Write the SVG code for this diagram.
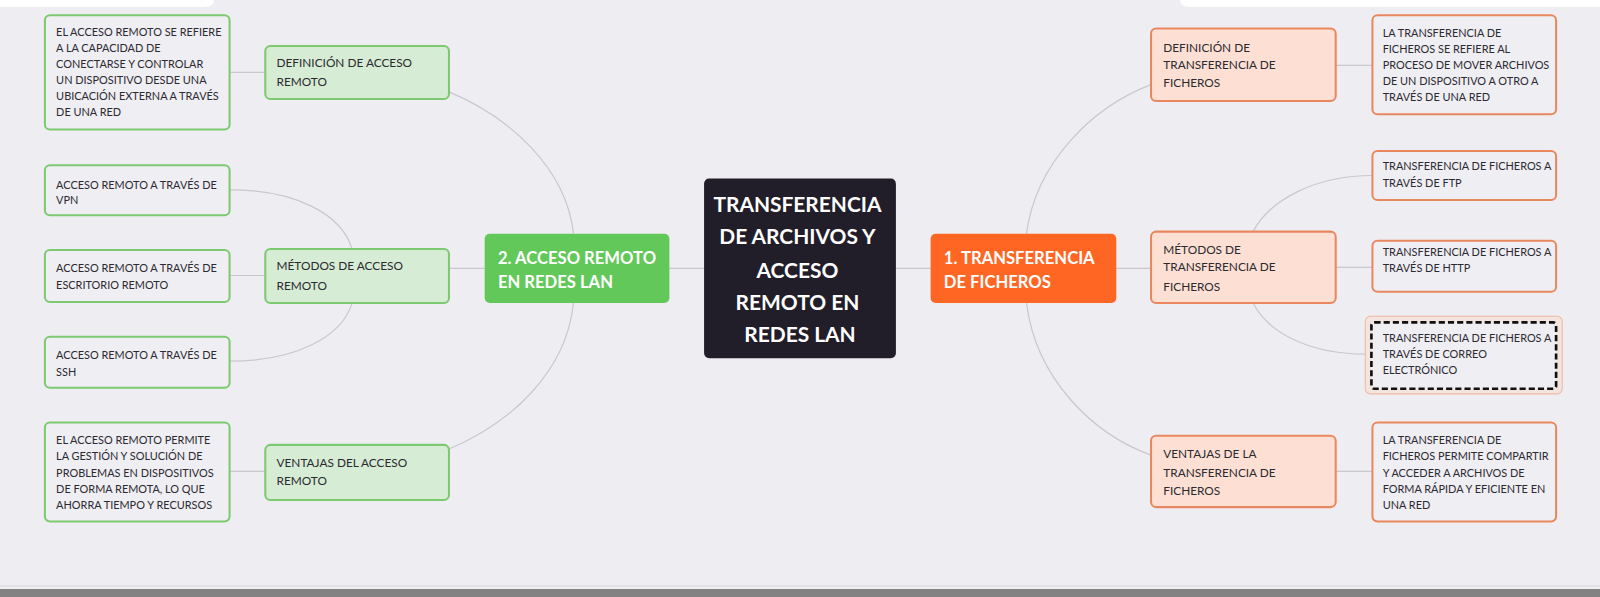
<svg xmlns="http://www.w3.org/2000/svg" width="1600" height="597" viewBox="0 0 1600 597">
<style>
.t{font-family:Lato,"Open Sans","Liberation Sans",sans-serif;fill:#2b2a30}
.s{font-size:10.7px}
.m{font-size:11.6px}
.b{font-family:Lato,"Open Sans","Liberation Sans",sans-serif;font-weight:bold;fill:#ffffff}
.gd{fill:#efeef3;stroke:#7dc96f;stroke-width:2}
.gm{fill:#d7ecd4;stroke:#7dc96f;stroke-width:2}
.od{fill:#efeef3;stroke:#e9885f;stroke-width:2}
.om{fill:#fde0d3;stroke:#e9885f;stroke-width:2}
.c{fill:none;stroke:#c9c8cd;stroke-width:1.2}
</style>
<rect width="1600" height="597" fill="#eeedf2"/>
<path d="M0,0 H214 Q214,7 204,7 H0 Z" fill="#ffffff"/>
<path d="M1180,0 H1600 V7 H1190 Q1180,7 1180,0 Z" fill="#ffffff"/>
<rect x="0" y="585" width="1600" height="2" fill="#e2e1e6"/>
<rect x="0" y="589" width="1600" height="8" fill="#828282"/>

<g transform="scale(1.0204)">
<g id="connectors">
<path class="c" d="M690,263 H656"/>
<path class="c" d="M475,263 H440"/>
<path class="c" d="M440,90 C500,115 555,165 562,229"/>
<path class="c" d="M440,440 C500,415 555,365 562,297"/>
<path class="c" d="M225,71 H260"/>
<path class="c" d="M225,270 H260"/>
<path class="c" d="M225,186 C290,186 335,210 345,244"/>
<path class="c" d="M225,354 C290,354 335,330 345,297"/>
<path class="c" d="M225,462 H260"/>
<path class="c" d="M878,263 H912"/>
<path class="c" d="M1094,263 H1128"/>
<path class="c" d="M1128,83 C1070,105 1015,160 1006,229"/>
<path class="c" d="M1128,446 C1070,425 1015,370 1006,297"/>
<path class="c" d="M1309,64 H1345"/>
<path class="c" d="M1309,262 H1345"/>
<path class="c" d="M1228,227 C1245,195 1290,172 1345,172"/>
<path class="c" d="M1228,297 C1245,330 1290,347 1338,347"/>
<path class="c" d="M1309,462 H1345"/>
</g>

<g id="root">
<rect x="690" y="175" width="188" height="176" rx="5" fill="#221e29"/>
<text class="b" font-size="20.5" text-anchor="middle">
<tspan x="784" y="207.5">TRANSFERENCIA</tspan>
<tspan x="784" y="239.5">DE ARCHIVOS Y</tspan>
<tspan x="784" y="272">ACCESO</tspan>
<tspan x="784" y="304">REMOTO EN</tspan>
<tspan x="784" y="335.5">REDES LAN</tspan>
</text>
</g>

<g id="n2">
<rect x="475" y="229" width="181" height="68" rx="5" fill="#62c85a"/>
<text class="b" font-size="16.3"><tspan x="488" y="259">2. ACCESO REMOTO</tspan><tspan x="488" y="282">EN REDES LAN</tspan></text>
</g>

<g id="n1">
<rect x="912" y="229" width="182" height="68" rx="5" fill="#ff6624"/>
<text class="b" font-size="16.3"><tspan x="925" y="259">1. TRANSFERENCIA</tspan><tspan x="925" y="282">DE FICHEROS</tspan></text>
</g>

<g id="defAcceso">
<rect class="gm" x="260" y="45" width="180" height="52" rx="5"/>
<text class="t m"><tspan x="271" y="66">DEFINICIÓN DE ACCESO</tspan><tspan x="271" y="84">REMOTO</tspan></text>
</g>
<g id="defAccesoDet">
<rect class="gd" x="44" y="15" width="181" height="112" rx="5"/>
<text class="t s"><tspan x="55" y="35">EL ACCESO REMOTO SE REFIERE</tspan><tspan x="55" y="51">A LA CAPACIDAD DE</tspan><tspan x="55" y="67">CONECTARSE Y CONTROLAR</tspan><tspan x="55" y="82.5">UN DISPOSITIVO DESDE UNA</tspan><tspan x="55" y="98">UBICACIÓN EXTERNA A TRAVÉS</tspan><tspan x="55" y="114">DE UNA RED</tspan></text>
</g>

<g id="metAcceso">
<rect class="gm" x="260" y="244" width="180" height="53" rx="5"/>
<text class="t m"><tspan x="271" y="265">MÉTODOS DE ACCESO</tspan><tspan x="271" y="284">REMOTO</tspan></text>
</g>
<g id="vpn">
<rect class="gd" x="44" y="162" width="181" height="49" rx="5"/>
<text class="t s"><tspan x="55" y="185">ACCESO REMOTO A TRAVÉS DE</tspan><tspan x="55" y="200">VPN</tspan></text>
</g>
<g id="escritorio">
<rect class="gd" x="44" y="245" width="181" height="51" rx="5"/>
<text class="t s"><tspan x="55" y="267">ACCESO REMOTO A TRAVÉS DE</tspan><tspan x="55" y="283">ESCRITORIO REMOTO</tspan></text>
</g>
<g id="ssh">
<rect class="gd" x="44" y="330" width="181" height="50" rx="5"/>
<text class="t s"><tspan x="55" y="352">ACCESO REMOTO A TRAVÉS DE</tspan><tspan x="55" y="368">SSH</tspan></text>
</g>

<g id="ventAcceso">
<rect class="gm" x="260" y="436" width="180" height="54" rx="5"/>
<text class="t m"><tspan x="271" y="458">VENTAJAS DEL ACCESO</tspan><tspan x="271" y="475">REMOTO</tspan></text>
</g>
<g id="ventAccesoDet">
<rect class="gd" x="44" y="414" width="181" height="97" rx="5"/>
<text class="t s"><tspan x="55" y="435">EL ACCESO REMOTO PERMITE</tspan><tspan x="55" y="451">LA GESTIÓN Y SOLUCIÓN DE</tspan><tspan x="55" y="467">PROBLEMAS EN DISPOSITIVOS</tspan><tspan x="55" y="483">DE FORMA REMOTA, LO QUE</tspan><tspan x="55" y="499">AHORRA TIEMPO Y RECURSOS</tspan></text>
</g>

<g id="defTrans">
<rect class="om" x="1128" y="28" width="181" height="71" rx="5"/>
<text class="t m"><tspan x="1140" y="51">DEFINICIÓN DE</tspan><tspan x="1140" y="68">TRANSFERENCIA DE</tspan><tspan x="1140" y="85">FICHEROS</tspan></text>
</g>
<g id="defTransDet">
<rect class="od" x="1345" y="15" width="180" height="97" rx="5"/>
<text class="t s"><tspan x="1355" y="36">LA TRANSFERENCIA DE</tspan><tspan x="1355" y="52">FICHEROS SE REFIERE AL</tspan><tspan x="1355" y="68">PROCESO DE MOVER ARCHIVOS</tspan><tspan x="1355" y="83">DE UN DISPOSITIVO A OTRO A</tspan><tspan x="1355" y="99">TRAVÉS DE UNA RED</tspan></text>
</g>

<g id="metTrans">
<rect class="om" x="1128" y="227" width="181" height="70" rx="5"/>
<text class="t m"><tspan x="1140" y="249">MÉTODOS DE</tspan><tspan x="1140" y="266">TRANSFERENCIA DE</tspan><tspan x="1140" y="285">FICHEROS</tspan></text>
</g>
<g id="ftp">
<rect class="od" x="1345" y="148" width="180" height="48" rx="5"/>
<text class="t s"><tspan x="1355" y="167">TRANSFERENCIA DE FICHEROS A</tspan><tspan x="1355" y="183">TRAVÉS DE FTP</tspan></text>
</g>
<g id="http">
<rect class="od" x="1345" y="236" width="180" height="50" rx="5"/>
<text class="t s"><tspan x="1355" y="251">TRANSFERENCIA DE FICHEROS A</tspan><tspan x="1355" y="267">TRAVÉS DE HTTP</tspan></text>
</g>
<g id="correo">
<rect x="1338" y="310" width="193" height="76" rx="5" fill="#f4e4dd" stroke="#efb9a2" stroke-width="1"/>
<rect x="1344" y="316" width="181" height="65" rx="3" fill="#efeef3" stroke="#111111" stroke-width="2.6" stroke-dasharray="6,3"/>
<text class="t s"><tspan x="1355" y="335">TRANSFERENCIA DE FICHEROS A</tspan><tspan x="1355" y="351">TRAVÉS DE CORREO</tspan><tspan x="1355" y="367">ELECTRÓNICO</tspan></text>
</g>

<g id="ventTrans">
<rect class="om" x="1128" y="427" width="181" height="70" rx="5"/>
<text class="t m"><tspan x="1140" y="449">VENTAJAS DE LA</tspan><tspan x="1140" y="467">TRANSFERENCIA DE</tspan><tspan x="1140" y="485">FICHEROS</tspan></text>
</g>
<g id="ventTransDet">
<rect class="od" x="1345" y="414" width="180" height="97" rx="5"/>
<text class="t s"><tspan x="1355" y="435">LA TRANSFERENCIA DE</tspan><tspan x="1355" y="451">FICHEROS PERMITE COMPARTIR</tspan><tspan x="1355" y="467">Y ACCEDER A ARCHIVOS DE</tspan><tspan x="1355" y="483">FORMA RÁPIDA Y EFICIENTE EN</tspan><tspan x="1355" y="499">UNA RED</tspan></text>
</g>
</g>
</svg>
